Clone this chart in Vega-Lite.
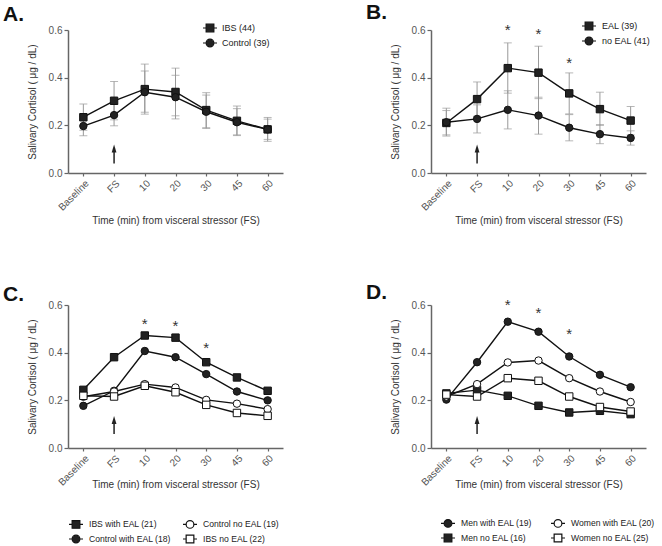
{
  "$schema": "https://vega.github.io/schema/vega-lite/v6.json",
  "padding": {"left": 3, "top": 2, "right": 0, "bottom": 0},
  "bounds": "flush",
  "columns": 2,
  "spacing": {"row": 132, "column": 148},
  "resolve": {"scale": {"shape": "independent", "fill": "independent"}},
  "datasets": {
    "A": [
      {"t": "Baseline", "g": "IBS (44)", "v": 0.234, "lo": 0.179, "hi": 0.289},
      {"t": "FS", "g": "IBS (44)", "v": 0.303, "lo": 0.223, "hi": 0.384},
      {"t": "10", "g": "IBS (44)", "v": 0.352, "lo": 0.247, "hi": 0.457},
      {"t": "20", "g": "IBS (44)", "v": 0.340, "lo": 0.240, "hi": 0.440},
      {"t": "30", "g": "IBS (44)", "v": 0.264, "lo": 0.190, "hi": 0.337},
      {"t": "45", "g": "IBS (44)", "v": 0.219, "lo": 0.157, "hi": 0.281},
      {"t": "60", "g": "IBS (44)", "v": 0.183, "lo": 0.133, "hi": 0.233},
      {"t": "Baseline", "g": "Control (39)", "v": 0.197, "lo": 0.156, "hi": 0.238},
      {"t": "FS", "g": "Control (39)", "v": 0.243, "lo": 0.198, "hi": 0.288},
      {"t": "10", "g": "Control (39)", "v": 0.339, "lo": 0.255, "hi": 0.428},
      {"t": "20", "g": "Control (39)", "v": 0.318, "lo": 0.227, "hi": 0.410},
      {"t": "30", "g": "Control (39)", "v": 0.257, "lo": 0.187, "hi": 0.327},
      {"t": "45", "g": "Control (39)", "v": 0.213, "lo": 0.160, "hi": 0.270},
      {"t": "60", "g": "Control (39)", "v": 0.183, "lo": 0.141, "hi": 0.226}
    ],
    "B": [
      {"t": "Baseline", "g": "EAL (39)", "v": 0.210, "lo": 0.160, "hi": 0.262},
      {"t": "FS", "g": "EAL (39)", "v": 0.310, "lo": 0.238, "hi": 0.382},
      {"t": "10", "g": "EAL (39)", "v": 0.440, "lo": 0.335, "hi": 0.546},
      {"t": "20", "g": "EAL (39)", "v": 0.421, "lo": 0.312, "hi": 0.532},
      {"t": "30", "g": "EAL (39)", "v": 0.334, "lo": 0.248, "hi": 0.420},
      {"t": "45", "g": "EAL (39)", "v": 0.268, "lo": 0.200, "hi": 0.339},
      {"t": "60", "g": "EAL (39)", "v": 0.220, "lo": 0.160, "hi": 0.279},
      {"t": "Baseline", "g": "no EAL (41)", "v": 0.213, "lo": 0.155, "hi": 0.272},
      {"t": "FS", "g": "no EAL (41)", "v": 0.227, "lo": 0.168, "hi": 0.286},
      {"t": "10", "g": "no EAL (41)", "v": 0.265, "lo": 0.185, "hi": 0.345},
      {"t": "20", "g": "no EAL (41)", "v": 0.241, "lo": 0.163, "hi": 0.318},
      {"t": "30", "g": "no EAL (41)", "v": 0.190, "lo": 0.135, "hi": 0.245},
      {"t": "45", "g": "no EAL (41)", "v": 0.163, "lo": 0.123, "hi": 0.203},
      {"t": "60", "g": "no EAL (41)", "v": 0.147, "lo": 0.117, "hi": 0.177}
    ],
    "C": [
      {"t": "Baseline", "g": "IBS with EAL (21)", "v": 0.244},
      {"t": "FS", "g": "IBS with EAL (21)", "v": 0.381},
      {"t": "10", "g": "IBS with EAL (21)", "v": 0.472},
      {"t": "20", "g": "IBS with EAL (21)", "v": 0.463},
      {"t": "30", "g": "IBS with EAL (21)", "v": 0.360},
      {"t": "45", "g": "IBS with EAL (21)", "v": 0.296},
      {"t": "60", "g": "IBS with EAL (21)", "v": 0.240},
      {"t": "Baseline", "g": "Control with EAL (18)", "v": 0.177},
      {"t": "FS", "g": "Control with EAL (18)", "v": 0.240},
      {"t": "10", "g": "Control with EAL (18)", "v": 0.407},
      {"t": "20", "g": "Control with EAL (18)", "v": 0.381},
      {"t": "30", "g": "Control with EAL (18)", "v": 0.310},
      {"t": "45", "g": "Control with EAL (18)", "v": 0.237},
      {"t": "60", "g": "Control with EAL (18)", "v": 0.200},
      {"t": "Baseline", "g": "Control no EAL (19)", "v": 0.215},
      {"t": "FS", "g": "Control no EAL (19)", "v": 0.237},
      {"t": "10", "g": "Control no EAL (19)", "v": 0.268},
      {"t": "20", "g": "Control no EAL (19)", "v": 0.254},
      {"t": "30", "g": "Control no EAL (19)", "v": 0.202},
      {"t": "45", "g": "Control no EAL (19)", "v": 0.186},
      {"t": "60", "g": "Control no EAL (19)", "v": 0.163},
      {"t": "Baseline", "g": "IBS no EAL (22)", "v": 0.219},
      {"t": "FS", "g": "IBS no EAL (22)", "v": 0.216},
      {"t": "10", "g": "IBS no EAL (22)", "v": 0.261},
      {"t": "20", "g": "IBS no EAL (22)", "v": 0.234},
      {"t": "30", "g": "IBS no EAL (22)", "v": 0.181},
      {"t": "45", "g": "IBS no EAL (22)", "v": 0.147},
      {"t": "60", "g": "IBS no EAL (22)", "v": 0.135}
    ],
    "D": [
      {"t": "Baseline", "g": "Men with EAL (19)", "v": 0.203},
      {"t": "FS", "g": "Men with EAL (19)", "v": 0.360},
      {"t": "10", "g": "Men with EAL (19)", "v": 0.530},
      {"t": "20", "g": "Men with EAL (19)", "v": 0.488},
      {"t": "30", "g": "Men with EAL (19)", "v": 0.384},
      {"t": "45", "g": "Men with EAL (19)", "v": 0.307},
      {"t": "60", "g": "Men with EAL (19)", "v": 0.255},
      {"t": "Baseline", "g": "Men no EAL (16)", "v": 0.229},
      {"t": "FS", "g": "Men no EAL (16)", "v": 0.243},
      {"t": "10", "g": "Men no EAL (16)", "v": 0.219},
      {"t": "20", "g": "Men no EAL (16)", "v": 0.177},
      {"t": "30", "g": "Men no EAL (16)", "v": 0.149},
      {"t": "45", "g": "Men no EAL (16)", "v": 0.156},
      {"t": "60", "g": "Men no EAL (16)", "v": 0.142},
      {"t": "Baseline", "g": "Women with EAL (20)", "v": 0.216},
      {"t": "FS", "g": "Women with EAL (20)", "v": 0.268},
      {"t": "10", "g": "Women with EAL (20)", "v": 0.359},
      {"t": "20", "g": "Women with EAL (20)", "v": 0.367},
      {"t": "30", "g": "Women with EAL (20)", "v": 0.293},
      {"t": "45", "g": "Women with EAL (20)", "v": 0.237},
      {"t": "60", "g": "Women with EAL (20)", "v": 0.193},
      {"t": "Baseline", "g": "Women no EAL (25)", "v": 0.224},
      {"t": "FS", "g": "Women no EAL (25)", "v": 0.216},
      {"t": "10", "g": "Women no EAL (25)", "v": 0.293},
      {"t": "20", "g": "Women no EAL (25)", "v": 0.282},
      {"t": "30", "g": "Women no EAL (25)", "v": 0.216},
      {"t": "45", "g": "Women no EAL (25)", "v": 0.172},
      {"t": "60", "g": "Women no EAL (25)", "v": 0.153}
    ],
    "arrAB": [{"t": "FS", "lo": 0.04, "hi": 0.10, "h": 0.103}],
    "arrCD": [{"t": "FS", "lo": 0.059, "hi": 0.115, "h": 0.118}],
    "sB": [{"t": "10", "v": 0.603}, {"t": "20", "v": 0.586}, {"t": "30", "v": 0.467}],
    "sC": [{"t": "10", "v": 0.530}, {"t": "20", "v": 0.519}, {"t": "30", "v": 0.426}],
    "sD": [{"t": "10", "v": 0.607}, {"t": "20", "v": 0.575}, {"t": "30", "v": 0.488}]
  },
  "concat": [
    {
      "width": 215, "height": 143,
      "title": {"text": "A.", "anchor": "start", "dx": -24, "offset": -5, "fontSize": 21, "fontWeight": "bold", "color": "#111"},
      "resolve": {"scale": {"shape": "independent", "fill": "independent"}},
      "encoding": {"x": {"field": "t", "type": "ordinal", "sort": ["Baseline", "FS", "10", "20", "30", "45", "60"], "scale": {"type": "point", "padding": 0.5}, "axis": {"labelAngle": -45, "titlePadding": 3}, "title": "Time (min) from visceral stressor (FS)"}},
      "layer": [
        {"data": {"name": "A"}, "mark": {"type": "rule", "color": "#999", "strokeWidth": 1},
         "encoding": {"y": {"field": "lo", "type": "quantitative", "scale": {"domain": [0, 0.6], "nice": false}, "axis": {"values": [0, 0.2, 0.4, 0.6], "format": ".1f"}, "title": "Salivary Cortisol ( μg / dL)"}, "y2": {"field": "hi"}}},
        {"data": {"name": "A"}, "mark": {"type": "tick", "color": "#999", "thickness": 1, "size": 8},
         "encoding": {"y": {"field": "lo", "type": "quantitative", "title": "Salivary Cortisol ( μg / dL)"}}},
        {"data": {"name": "A"}, "mark": {"type": "tick", "color": "#999", "thickness": 1, "size": 8},
         "encoding": {"y": {"field": "hi", "type": "quantitative", "title": "Salivary Cortisol ( μg / dL)"}}},
        {"data": {"name": "A"}, "mark": {"type": "line", "color": "#111", "strokeWidth": 1.4},
         "encoding": {"y": {"field": "v", "type": "quantitative", "title": "Salivary Cortisol ( μg / dL)"}, "detail": {"field": "g"}}},
        {"data": {"name": "A"}, "mark": {"type": "point", "filled": true, "size": 55, "stroke": "#111", "strokeWidth": 1, "opacity": 1},
         "encoding": {"y": {"field": "v", "type": "quantitative", "title": "Salivary Cortisol ( μg / dL)"},
           "shape": {"field": "g", "type": "nominal", "scale": {"domain": ["IBS (44)", "Control (39)"], "range": ["square", "circle"]}, "legend": null},
           "fill": {"field": "g", "type": "nominal", "scale": {"domain": ["IBS (44)", "Control (39)"], "range": ["#222", "#222"]}, "legend": null}}},
        {"data": {"name": "A"}, "mark": {"type": "point", "filled": true, "size": 196, "stroke": "#111", "strokeWidth": 1, "opacity": 0},
         "encoding": {"y": {"field": "v", "type": "quantitative", "title": "Salivary Cortisol ( μg / dL)"},
           "shape": {"field": "g", "type": "nominal", "scale": {"domain": ["IBS (44)", "Control (39)"], "range": ["M-1,0H-0.55M0.55,0H1M-0.55,-0.55H0.55V0.55H-0.55Z", "M-1,0H-0.55M0.55,0H1M-0.55,0A0.55,0.55,0,1,1,0.55,0A0.55,0.55,0,1,1,-0.55,0Z"]},
             "legend": {"title": null, "orient": "none", "legendX": 134, "legendY": -10, "symbolOpacity": 1, "symbolSize": 196, "symbolStrokeWidth": 1, "symbolStrokeColor": "#111", "labelFontSize": 9, "labelColor": "#222", "labelOffset": 4, "rowPadding": 0, "padding": 0, "encode": {"symbols": {"update": {"stroke": {"value": "#111"}, "strokeWidth": {"value": 1.2}, "opacity": {"value": 1}}}}}},
           "fill": {"field": "g", "type": "nominal", "scale": {"domain": ["IBS (44)", "Control (39)"], "range": ["#222", "#222"]},
             "legend": {"title": null, "orient": "none", "legendX": 134, "legendY": -10, "symbolOpacity": 1, "symbolSize": 196, "symbolStrokeWidth": 1, "symbolStrokeColor": "#111", "labelFontSize": 9, "labelColor": "#222", "labelOffset": 4, "rowPadding": 0, "padding": 0, "encode": {"symbols": {"update": {"stroke": {"value": "#111"}, "strokeWidth": {"value": 1.2}, "opacity": {"value": 1}}}}}}}},
        {"data": {"name": "arrAB"}, "mark": {"type": "rule", "color": "#222", "strokeWidth": 1.5},
         "encoding": {"y": {"field": "lo", "type": "quantitative", "title": "Salivary Cortisol ( μg / dL)"}, "y2": {"field": "hi"}}},
        {"data": {"name": "arrAB"}, "mark": {"type": "point", "shape": "M0,-1L0.6,1L-0.6,1Z", "size": 64, "filled": true, "color": "#222", "opacity": 1},
         "encoding": {"y": {"field": "h", "type": "quantitative", "title": "Salivary Cortisol ( μg / dL)"}}}
      ]
    },
    {
      "width": 215, "height": 143,
      "title": {"text": "B.", "anchor": "start", "dx": -24, "offset": -5, "fontSize": 21, "fontWeight": "bold", "color": "#111"},
      "resolve": {"scale": {"shape": "independent", "fill": "independent"}},
      "encoding": {"x": {"field": "t", "type": "ordinal", "sort": ["Baseline", "FS", "10", "20", "30", "45", "60"], "scale": {"type": "point", "padding": 0.5}, "axis": {"labelAngle": -45, "titlePadding": 3}, "title": "Time (min) from visceral stressor (FS)"}},
      "layer": [
        {"data": {"name": "B"}, "mark": {"type": "rule", "color": "#999", "strokeWidth": 1},
         "encoding": {"y": {"field": "lo", "type": "quantitative", "scale": {"domain": [0, 0.6], "nice": false}, "axis": {"values": [0, 0.2, 0.4, 0.6], "format": ".1f"}, "title": "Salivary Cortisol ( μg / dL)"}, "y2": {"field": "hi"}}},
        {"data": {"name": "B"}, "mark": {"type": "tick", "color": "#999", "thickness": 1, "size": 8},
         "encoding": {"y": {"field": "lo", "type": "quantitative", "title": "Salivary Cortisol ( μg / dL)"}}},
        {"data": {"name": "B"}, "mark": {"type": "tick", "color": "#999", "thickness": 1, "size": 8},
         "encoding": {"y": {"field": "hi", "type": "quantitative", "title": "Salivary Cortisol ( μg / dL)"}}},
        {"data": {"name": "B"}, "mark": {"type": "line", "color": "#111", "strokeWidth": 1.4},
         "encoding": {"y": {"field": "v", "type": "quantitative", "title": "Salivary Cortisol ( μg / dL)"}, "detail": {"field": "g"}}},
        {"data": {"name": "B"}, "mark": {"type": "point", "filled": true, "size": 55, "stroke": "#111", "strokeWidth": 1, "opacity": 1},
         "encoding": {"y": {"field": "v", "type": "quantitative", "title": "Salivary Cortisol ( μg / dL)"},
           "shape": {"field": "g", "type": "nominal", "scale": {"domain": ["EAL (39)", "no EAL (41)"], "range": ["square", "circle"]}, "legend": null},
           "fill": {"field": "g", "type": "nominal", "scale": {"domain": ["EAL (39)", "no EAL (41)"], "range": ["#222", "#222"]}, "legend": null}}},
        {"data": {"name": "B"}, "mark": {"type": "point", "filled": true, "size": 196, "stroke": "#111", "strokeWidth": 1, "opacity": 0},
         "encoding": {"y": {"field": "v", "type": "quantitative", "title": "Salivary Cortisol ( μg / dL)"},
           "shape": {"field": "g", "type": "nominal", "scale": {"domain": ["EAL (39)", "no EAL (41)"], "range": ["M-1,0H-0.55M0.55,0H1M-0.55,-0.55H0.55V0.55H-0.55Z", "M-1,0H-0.55M0.55,0H1M-0.55,0A0.55,0.55,0,1,1,0.55,0A0.55,0.55,0,1,1,-0.55,0Z"]},
             "legend": {"title": null, "orient": "none", "legendX": 150, "legendY": -12, "symbolOpacity": 1, "symbolSize": 196, "symbolStrokeWidth": 1, "symbolStrokeColor": "#111", "labelFontSize": 9, "labelColor": "#222", "labelOffset": 5, "rowPadding": 0, "padding": 0, "encode": {"symbols": {"update": {"stroke": {"value": "#111"}, "strokeWidth": {"value": 1.2}, "opacity": {"value": 1}}}}}},
           "fill": {"field": "g", "type": "nominal", "scale": {"domain": ["EAL (39)", "no EAL (41)"], "range": ["#222", "#222"]},
             "legend": {"title": null, "orient": "none", "legendX": 150, "legendY": -12, "symbolOpacity": 1, "symbolSize": 196, "symbolStrokeWidth": 1, "symbolStrokeColor": "#111", "labelFontSize": 9, "labelColor": "#222", "labelOffset": 5, "rowPadding": 0, "padding": 0, "encode": {"symbols": {"update": {"stroke": {"value": "#111"}, "strokeWidth": {"value": 1.2}, "opacity": {"value": 1}}}}}}}},
        {"data": {"name": "arrAB"}, "mark": {"type": "rule", "color": "#222", "strokeWidth": 1.5},
         "encoding": {"y": {"field": "lo", "type": "quantitative", "title": "Salivary Cortisol ( μg / dL)"}, "y2": {"field": "hi"}}},
        {"data": {"name": "arrAB"}, "mark": {"type": "point", "shape": "M0,-1L0.6,1L-0.6,1Z", "size": 64, "filled": true, "color": "#222", "opacity": 1},
         "encoding": {"y": {"field": "h", "type": "quantitative", "title": "Salivary Cortisol ( μg / dL)"}}},
        {"data": {"name": "sB"}, "mark": {"type": "text", "text": "*", "fontSize": 15, "color": "#333", "baseline": "alphabetic", "dy": 6},
         "encoding": {"y": {"field": "v", "type": "quantitative", "title": "Salivary Cortisol ( μg / dL)"}}}
      ]
    },
    {
      "width": 215, "height": 143,
      "title": {"text": "C.", "anchor": "start", "dx": -24, "offset": -5, "fontSize": 21, "fontWeight": "bold", "color": "#111"},
      "resolve": {"scale": {"shape": "independent", "fill": "independent"}},
      "encoding": {"x": {"field": "t", "type": "ordinal", "sort": ["Baseline", "FS", "10", "20", "30", "45", "60"], "scale": {"type": "point", "padding": 0.5}, "axis": {"labelAngle": -45, "titlePadding": -8}, "title": "Time (min) from visceral stressor (FS)"}},
      "layer": [
        {"data": {"name": "C"}, "mark": {"type": "line", "color": "#111", "strokeWidth": 1.4},
         "encoding": {"y": {"field": "v", "type": "quantitative", "scale": {"domain": [0, 0.6], "nice": false}, "axis": {"values": [0, 0.2, 0.4, 0.6], "format": ".1f"}, "title": "Salivary Cortisol ( μg / dL)"}, "detail": {"field": "g"}}},
        {"data": {"name": "C"}, "mark": {"type": "point", "filled": true, "size": 55, "stroke": "#111", "strokeWidth": 1, "opacity": 1},
         "encoding": {"y": {"field": "v", "type": "quantitative", "title": "Salivary Cortisol ( μg / dL)"},
           "shape": {"field": "g", "type": "nominal", "scale": {"domain": ["IBS with EAL (21)", "Control with EAL (18)", "Control no EAL (19)", "IBS no EAL (22)"], "range": ["square", "circle", "circle", "square"]}, "legend": null},
           "fill": {"field": "g", "type": "nominal", "scale": {"domain": ["IBS with EAL (21)", "Control with EAL (18)", "Control no EAL (19)", "IBS no EAL (22)"], "range": ["#222", "#222", "white", "white"]}, "legend": null}}},
        {"data": {"name": "C"}, "mark": {"type": "point", "filled": true, "size": 196, "stroke": "#111", "strokeWidth": 1, "opacity": 0},
         "encoding": {"y": {"field": "v", "type": "quantitative", "title": "Salivary Cortisol ( μg / dL)"},
           "shape": {"field": "g", "type": "nominal", "scale": {"domain": ["IBS with EAL (21)", "Control with EAL (18)", "Control no EAL (19)", "IBS no EAL (22)"], "range": ["M-1,0H-0.55M0.55,0H1M-0.55,-0.55H0.55V0.55H-0.55Z", "M-1,0H-0.55M0.55,0H1M-0.55,0A0.55,0.55,0,1,1,0.55,0A0.55,0.55,0,1,1,-0.55,0Z", "M-1,0H-0.55M0.55,0H1M-0.55,0A0.55,0.55,0,1,1,0.55,0A0.55,0.55,0,1,1,-0.55,0Z", "M-1,0H-0.55M0.55,0H1M-0.55,-0.55H0.55V0.55H-0.55Z"]},
             "legend": {"title": null, "orient": "none", "legendX": 0, "legendY": 211, "columns": 2, "columnPadding": 9, "symbolOpacity": 1, "symbolSize": 196, "symbolStrokeWidth": 1, "symbolStrokeColor": "#111", "labelFontSize": 8.6, "labelColor": "#222", "labelOffset": 5, "rowPadding": 0, "padding": 0, "encode": {"symbols": {"update": {"stroke": {"value": "#111"}, "strokeWidth": {"value": 1.2}, "opacity": {"value": 1}}}}}},
           "fill": {"field": "g", "type": "nominal", "scale": {"domain": ["IBS with EAL (21)", "Control with EAL (18)", "Control no EAL (19)", "IBS no EAL (22)"], "range": ["#222", "#222", "white", "white"]},
             "legend": {"title": null, "orient": "none", "legendX": 0, "legendY": 211, "columns": 2, "columnPadding": 9, "symbolOpacity": 1, "symbolSize": 196, "symbolStrokeWidth": 1, "symbolStrokeColor": "#111", "labelFontSize": 8.6, "labelColor": "#222", "labelOffset": 5, "rowPadding": 0, "padding": 0, "encode": {"symbols": {"update": {"stroke": {"value": "#111"}, "strokeWidth": {"value": 1.2}, "opacity": {"value": 1}}}}}}}},
        {"data": {"name": "arrCD"}, "mark": {"type": "rule", "color": "#222", "strokeWidth": 1.5},
         "encoding": {"y": {"field": "lo", "type": "quantitative", "title": "Salivary Cortisol ( μg / dL)"}, "y2": {"field": "hi"}}},
        {"data": {"name": "arrCD"}, "mark": {"type": "point", "shape": "M0,-1L0.6,1L-0.6,1Z", "size": 64, "filled": true, "color": "#222", "opacity": 1},
         "encoding": {"y": {"field": "h", "type": "quantitative", "title": "Salivary Cortisol ( μg / dL)"}}},
        {"data": {"name": "sC"}, "mark": {"type": "text", "text": "*", "fontSize": 15, "color": "#333", "baseline": "alphabetic", "dy": 7},
         "encoding": {"y": {"field": "v", "type": "quantitative", "title": "Salivary Cortisol ( μg / dL)"}}}
      ]
    },
    {
      "width": 215, "height": 143,
      "title": {"text": "D.", "anchor": "start", "dx": -24, "offset": -5, "fontSize": 21, "fontWeight": "bold", "color": "#111"},
      "resolve": {"scale": {"shape": "independent", "fill": "independent"}},
      "encoding": {"x": {"field": "t", "type": "ordinal", "sort": ["Baseline", "FS", "10", "20", "30", "45", "60"], "scale": {"type": "point", "padding": 0.5}, "axis": {"labelAngle": -45, "titlePadding": -8}, "title": "Time (min) from visceral stressor (FS)"}},
      "layer": [
        {"data": {"name": "D"}, "mark": {"type": "line", "color": "#111", "strokeWidth": 1.4},
         "encoding": {"y": {"field": "v", "type": "quantitative", "scale": {"domain": [0, 0.6], "nice": false}, "axis": {"values": [0, 0.2, 0.4, 0.6], "format": ".1f"}, "title": "Salivary Cortisol ( μg / dL)"}, "detail": {"field": "g"}}},
        {"data": {"name": "D"}, "mark": {"type": "point", "filled": true, "size": 55, "stroke": "#111", "strokeWidth": 1, "opacity": 1},
         "encoding": {"y": {"field": "v", "type": "quantitative", "title": "Salivary Cortisol ( μg / dL)"},
           "shape": {"field": "g", "type": "nominal", "scale": {"domain": ["Men with EAL (19)", "Men no EAL (16)", "Women with EAL (20)", "Women no EAL (25)"], "range": ["circle", "square", "circle", "square"]}, "legend": null},
           "fill": {"field": "g", "type": "nominal", "scale": {"domain": ["Men with EAL (19)", "Men no EAL (16)", "Women with EAL (20)", "Women no EAL (25)"], "range": ["#222", "#222", "white", "white"]}, "legend": null}}},
        {"data": {"name": "D"}, "mark": {"type": "point", "filled": true, "size": 196, "stroke": "#111", "strokeWidth": 1, "opacity": 0},
         "encoding": {"y": {"field": "v", "type": "quantitative", "title": "Salivary Cortisol ( μg / dL)"},
           "shape": {"field": "g", "type": "nominal", "scale": {"domain": ["Men with EAL (19)", "Men no EAL (16)", "Women with EAL (20)", "Women no EAL (25)"], "range": ["M-1,0H-0.55M0.55,0H1M-0.55,0A0.55,0.55,0,1,1,0.55,0A0.55,0.55,0,1,1,-0.55,0Z", "M-1,0H-0.55M0.55,0H1M-0.55,-0.55H0.55V0.55H-0.55Z", "M-1,0H-0.55M0.55,0H1M-0.55,0A0.55,0.55,0,1,1,0.55,0A0.55,0.55,0,1,1,-0.55,0Z", "M-1,0H-0.55M0.55,0H1M-0.55,-0.55H0.55V0.55H-0.55Z"]},
             "legend": {"title": null, "orient": "none", "legendX": 9, "legendY": 210, "columns": 2, "columnPadding": 16, "symbolOpacity": 1, "symbolSize": 196, "symbolStrokeWidth": 1, "symbolStrokeColor": "#111", "labelFontSize": 8.6, "labelColor": "#222", "labelOffset": 5, "rowPadding": 0, "padding": 0, "encode": {"symbols": {"update": {"stroke": {"value": "#111"}, "strokeWidth": {"value": 1.2}, "opacity": {"value": 1}}}}}},
           "fill": {"field": "g", "type": "nominal", "scale": {"domain": ["Men with EAL (19)", "Men no EAL (16)", "Women with EAL (20)", "Women no EAL (25)"], "range": ["#222", "#222", "white", "white"]},
             "legend": {"title": null, "orient": "none", "legendX": 9, "legendY": 210, "columns": 2, "columnPadding": 16, "symbolOpacity": 1, "symbolSize": 196, "symbolStrokeWidth": 1, "symbolStrokeColor": "#111", "labelFontSize": 8.6, "labelColor": "#222", "labelOffset": 5, "rowPadding": 0, "padding": 0, "encode": {"symbols": {"update": {"stroke": {"value": "#111"}, "strokeWidth": {"value": 1.2}, "opacity": {"value": 1}}}}}}}},
        {"data": {"name": "arrCD"}, "mark": {"type": "rule", "color": "#222", "strokeWidth": 1.5},
         "encoding": {"y": {"field": "lo", "type": "quantitative", "title": "Salivary Cortisol ( μg / dL)"}, "y2": {"field": "hi"}}},
        {"data": {"name": "arrCD"}, "mark": {"type": "point", "shape": "M0,-1L0.6,1L-0.6,1Z", "size": 64, "filled": true, "color": "#222", "opacity": 1},
         "encoding": {"y": {"field": "h", "type": "quantitative", "title": "Salivary Cortisol ( μg / dL)"}}},
        {"data": {"name": "sD"}, "mark": {"type": "text", "text": "*", "fontSize": 15, "color": "#333", "baseline": "alphabetic", "dy": 7},
         "encoding": {"y": {"field": "v", "type": "quantitative", "title": "Salivary Cortisol ( μg / dL)"}}}
      ]
    }
  ],
  "config": {
    "font": "Liberation Sans",
    "view": {"stroke": null},
    "title": {"font": "Liberation Sans"},
    "axis": {"domainColor": "#666", "domainWidth": 1.5, "tickColor": "#666", "tickWidth": 1.2, "labelColor": "#555", "labelFontSize": 10, "labelFont": "Liberation Sans", "titleFont": "Liberation Sans", "titleFontSize": 10, "titleFontWeight": "normal", "titleColor": "#333", "grid": false},
    "axisX": {"tickSize": 3, "labelPadding": 2},
    "axisY": {"tickSize": 4, "labelPadding": 2, "titlePadding": 11},
    "legend": {"labelFont": "Liberation Sans"}
  }
}
